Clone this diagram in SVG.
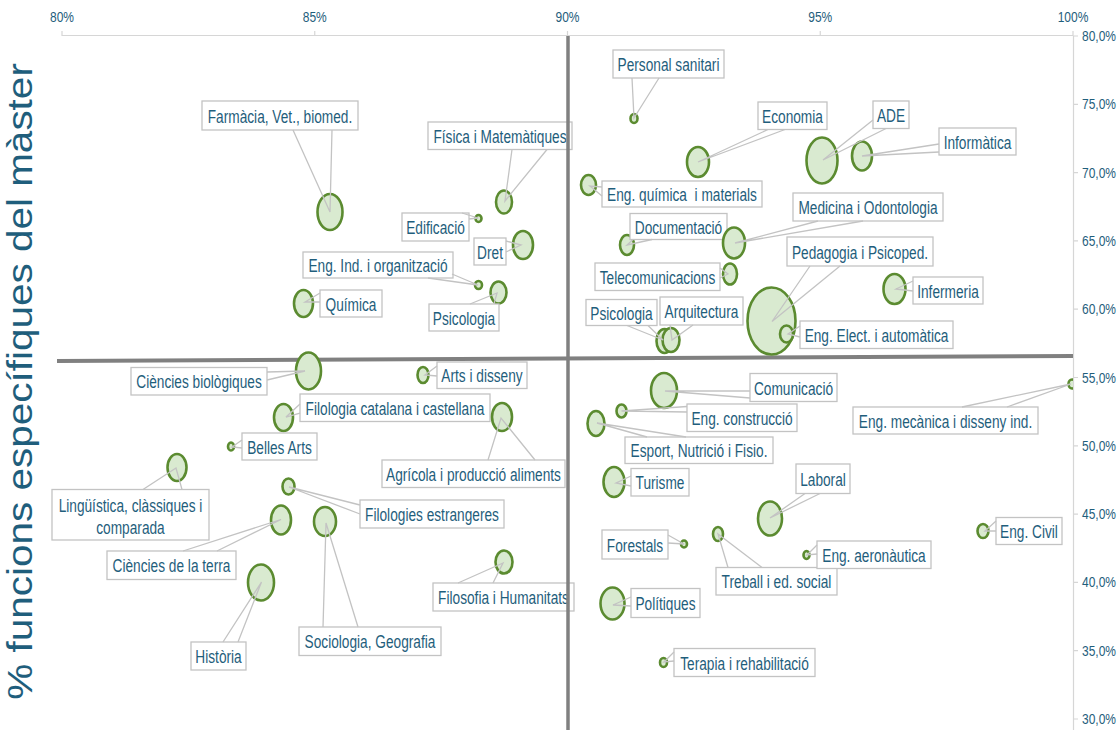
<svg xmlns="http://www.w3.org/2000/svg" width="1118" height="730" viewBox="0 0 1118 730">
<style>
.b{fill:#d9ead0;stroke:#5b8b30;stroke-width:2.6}
.bx{fill:#fff;stroke:#c3c3c3;stroke-width:1.3}
.t{font-family:"Liberation Sans",Arial,sans-serif;font-size:18.5px;fill:#1f5e7c;text-anchor:middle}
.w{fill:none;stroke:#c3c3c3;stroke-width:1.3}
.ax{stroke:#d6d6d6;stroke-width:1.2;fill:none}
.tk{font-family:"Liberation Sans",Arial,sans-serif;font-size:15px;fill:#1f5e7c}
.thick{stroke:#808080;fill:none}
</style>
<defs>
<clipPath id="plot"><rect x="0" y="0" width="1073" height="730"/></clipPath>
</defs>
<rect width="1118" height="730" fill="#fff"/>
<g id="axes">
<path class="ax" d="M62,35.5H1073M1073.5,36V730M62,31V36M314.75,31V36M567.5,31V36M820.25,31V36M1073,31V36M1073,36H1078M1073,104.3H1078M1073,172.6H1078M1073,240.9H1078M1073,309.2H1078M1073,377.5H1078M1073,445.8H1078M1073,514.1H1078M1073,582.4H1078M1073,650.7H1078M1073,719H1078"/>
<g class="tk" text-anchor="middle">
<text transform="translate(62,22) scale(0.8,1)">80%</text>
<text transform="translate(314.75,22) scale(0.8,1)">85%</text>
<text transform="translate(567.5,22) scale(0.8,1)">90%</text>
<text transform="translate(820.25,22) scale(0.8,1)">95%</text>
<text transform="translate(1073,22) scale(0.8,1)">100%</text>
</g>
<g class="tk">
<text transform="translate(1082,41) scale(0.8,1)">80,0%</text>
<text transform="translate(1082,109.3) scale(0.8,1)">75,0%</text>
<text transform="translate(1082,177.6) scale(0.8,1)">70,0%</text>
<text transform="translate(1082,245.9) scale(0.8,1)">65,0%</text>
<text transform="translate(1082,314.2) scale(0.8,1)">60,0%</text>
<text transform="translate(1082,382.5) scale(0.8,1)">55,0%</text>
<text transform="translate(1082,450.8) scale(0.8,1)">50,0%</text>
<text transform="translate(1082,519.1) scale(0.8,1)">45,0%</text>
<text transform="translate(1082,587.4) scale(0.8,1)">40,0%</text>
<text transform="translate(1082,655.7) scale(0.8,1)">35,0%</text>
<text transform="translate(1082,724) scale(0.8,1)">30,0%</text>
</g>
<text transform="translate(32,381.5) scale(0.88,1) rotate(-90)" style="font-family:'Liberation Sans',Arial,sans-serif;font-size:40.5px;fill:#1f5e7c;text-anchor:middle">% funcions específiques del màster</text>
</g>
<line id="hline" class="thick" x1="57" y1="361" x2="1073" y2="356" stroke-width="4"/>

<g id="farmacia"><ellipse class="b" cx="330" cy="212" rx="12.5" ry="18"/><rect class="bx" x="202" y="101" width="156" height="29"/><text class="t" transform="translate(280,122.5) scale(0.74,1)">Farmàcia, Vet., biomed.</text></g>
<g id="personal"><ellipse class="b" cx="634" cy="118.5" rx="3.5" ry="4.5"/><rect class="bx" x="613" y="50" width="111" height="28"/><text class="t" transform="translate(668.5,71) scale(0.74,1)">Personal sanitari</text></g>
<g id="fisica"><ellipse class="b" cx="504" cy="202" rx="8" ry="11.5"/><rect class="bx" x="428" y="122" width="144" height="27.5"/><text class="t" transform="translate(500,142.75) scale(0.74,1)">Física i Matemàtiques</text></g>
<g id="edificacio"><ellipse class="b" cx="478.5" cy="218.5" rx="3" ry="3.5"/><rect class="bx" x="402" y="213" width="67" height="28"/><text class="t" transform="translate(435.5,234) scale(0.74,1)">Edificació</text></g>
<g id="economia"><ellipse class="b" cx="698" cy="162" rx="11" ry="15"/><rect class="bx" x="758" y="102" width="69" height="27.5"/><text class="t" transform="translate(792.5,122.75) scale(0.74,1)">Economia</text></g>
<g id="ade"><ellipse class="b" cx="822" cy="160.5" rx="15.5" ry="23"/><rect class="bx" x="873" y="101" width="36" height="27.5"/><text class="t" transform="translate(891,121.75) scale(0.74,1)">ADE</text></g>
<g id="informatica"><ellipse class="b" cx="862" cy="156" rx="10" ry="14.5"/><rect class="bx" x="939" y="128" width="77" height="27"/><text class="t" transform="translate(977.5,148.5) scale(0.74,1)">Informàtica</text></g>
<g id="engquimica"><ellipse class="b" cx="588.5" cy="185" rx="7.5" ry="10"/><rect class="bx" x="602" y="181" width="160" height="26"/><text class="t" xml:space="preserve" transform="translate(682,201) scale(0.74,1)">Eng. química  i materials</text></g>
<g id="documentacio"><ellipse class="b" cx="627" cy="245" rx="7" ry="10"/><rect class="bx" x="630" y="213.5" width="97" height="26"/><text class="t" transform="translate(678.5,233.5) scale(0.74,1)">Documentació</text></g>
<g id="medicina"><ellipse class="b" cx="734" cy="243" rx="11" ry="15.5"/><rect class="bx" x="793" y="193" width="150" height="28"/><text class="t" transform="translate(868,214) scale(0.74,1)">Medicina i Odontologia</text></g>
<g id="dret"><ellipse class="b" cx="523" cy="245" rx="10" ry="14"/><rect class="bx" x="474" y="238" width="32" height="27"/><text class="t" transform="translate(490,258.5) scale(0.74,1)">Dret</text></g>
<g id="engind"><ellipse class="b" cx="478.5" cy="285" rx="3.5" ry="4"/><rect class="bx" x="303" y="252" width="150" height="26"/><text class="t" transform="translate(378,272) scale(0.74,1)">Eng. Ind. i organització</text></g>
<g id="psicologia1"><ellipse class="b" cx="498.5" cy="292.5" rx="8" ry="11"/><rect class="bx" x="429" y="304" width="70" height="27"/><text class="t" transform="translate(464,324.5) scale(0.74,1)">Psicologia</text></g>
<g id="quimica"><ellipse class="b" cx="303.5" cy="303.5" rx="9.5" ry="13.5"/><rect class="bx" x="320" y="290" width="62" height="27"/><text class="t" transform="translate(351,310.5) scale(0.74,1)">Química</text></g>
<g id="telecom"><ellipse class="b" cx="730" cy="274" rx="7" ry="10.5"/><rect class="bx" x="595" y="263" width="125" height="27.5"/><text class="t" transform="translate(657.5,283.75) scale(0.74,1)">Telecomunicacions</text></g>
<g id="pedagogia"><ellipse class="b" cx="771.5" cy="321" rx="24" ry="33.5"/><rect class="bx" x="787" y="237" width="146" height="29"/><text class="t" transform="translate(860,258.5) scale(0.74,1)">Pedagogia i Psicoped.</text></g>
<g id="psicologia2"><ellipse class="b" cx="664.5" cy="341" rx="8" ry="12"/><rect class="bx" x="586" y="299.5" width="71" height="26"/><text class="t" transform="translate(621.5,319.5) scale(0.74,1)">Psicologia</text></g>
<g id="arquitectura"><ellipse class="b" cx="671" cy="340" rx="8.5" ry="12"/><rect class="bx" x="660" y="297" width="83" height="28"/><text class="t" transform="translate(701.5,318) scale(0.74,1)">Arquitectura</text></g>
<g id="engelect"><ellipse class="b" cx="786.5" cy="334" rx="6.5" ry="8.5"/><rect class="bx" x="800" y="321" width="153" height="27.5"/><text class="t" transform="translate(876.5,341.75) scale(0.74,1)">Eng. Elect. i automàtica</text></g>
<g id="infermeria"><ellipse class="b" cx="894.5" cy="289" rx="11" ry="15"/><rect class="bx" x="913" y="277" width="70" height="27"/><text class="t" transform="translate(948,297.5) scale(0.74,1)">Infermeria</text></g>
<g id="biologiques"><ellipse class="b" cx="308.5" cy="371" rx="12.5" ry="18.5"/><rect class="bx" x="131" y="367.5" width="136" height="27.5"/><text class="t" transform="translate(199,388.25) scale(0.74,1)">Ciències biològiques</text></g>
<g id="artsdisseny"><ellipse class="b" cx="423" cy="375" rx="5.5" ry="8"/><rect class="bx" x="437" y="362" width="90" height="26.5"/><text class="t" transform="translate(482,382.25) scale(0.74,1)">Arts i disseny</text></g>
<g id="filcat"><ellipse class="b" cx="283.5" cy="417.5" rx="9.5" ry="13.5"/><rect class="bx" x="300" y="394" width="190" height="27.5"/><text class="t" transform="translate(395,414.75) scale(0.74,1)">Filologia catalana i castellana</text></g>
<g id="bellesarts"><ellipse class="b" cx="231" cy="446.5" rx="3" ry="4"/><rect class="bx" x="242" y="433" width="75" height="27"/><text class="t" transform="translate(279.5,453.5) scale(0.74,1)">Belles Arts</text></g>
<g id="agricola"><ellipse class="b" cx="502" cy="417" rx="10" ry="14"/><rect class="bx" x="382" y="460" width="183" height="27.5"/><text class="t" transform="translate(473.5,480.75) scale(0.74,1)">Agrícola i producció aliments</text></g>
<g id="comunicacio"><ellipse class="b" cx="664" cy="390.5" rx="13" ry="17.5"/><rect class="bx" x="750" y="373.5" width="87" height="28"/><text class="t" transform="translate(793.5,394.5) scale(0.74,1)">Comunicació</text></g>
<g id="engcons"><ellipse class="b" cx="621.5" cy="411" rx="5" ry="6.5"/><rect class="bx" x="687" y="404" width="110" height="27.5"/><text class="t" transform="translate(742,424.75) scale(0.74,1)">Eng. construcció</text></g>
<g id="engmec"><ellipse class="b" cx="1072" cy="384" rx="3.5" ry="4.5" clip-path="url(#plot)"/><rect class="bx" x="853" y="407" width="185" height="27"/><text class="t" transform="translate(945.5,427.5) scale(0.74,1)">Eng. mecànica i disseny ind.</text></g>
<g id="esport"><ellipse class="b" cx="596" cy="423.5" rx="8.5" ry="12.5"/><rect class="bx" x="625" y="437" width="148" height="26.5"/><text class="t" transform="translate(699,457.25) scale(0.74,1)">Esport, Nutrició i Fisio.</text></g>
<g id="turisme"><ellipse class="b" cx="614" cy="482" rx="10.5" ry="15"/><rect class="bx" x="631" y="468.5" width="58" height="27.5"/><text class="t" transform="translate(660,489.25) scale(0.74,1)">Turisme</text></g>
<g id="linguistica"><ellipse class="b" cx="177" cy="467.5" rx="9.5" ry="13.5"/><rect class="bx" x="52" y="489.5" width="157" height="50.5"/><text class="t" transform="translate(130.5,511.5) scale(0.74,1)">Lingüística, clàssiques i</text><text class="t" transform="translate(130.5,533.5) scale(0.74,1)">comparada</text></g>
<g id="filest"><ellipse class="b" cx="288.5" cy="486.5" rx="6" ry="8"/><rect class="bx" x="360" y="500" width="144" height="28"/><text class="t" transform="translate(432,521) scale(0.74,1)">Filologies estrangeres</text></g>
<g id="cienterra"><ellipse class="b" cx="281" cy="520" rx="10" ry="14.5"/><rect class="bx" x="107" y="551" width="129" height="28.5"/><text class="t" transform="translate(171.5,572.25) scale(0.74,1)">Ciències de la terra</text></g>
<g id="sociologia"><ellipse class="b" cx="325" cy="521.5" rx="11" ry="14.5"/><rect class="bx" x="299" y="627" width="142" height="28.5"/><text class="t" transform="translate(370,648.25) scale(0.74,1)">Sociologia, Geografia</text></g>
<g id="historia"><ellipse class="b" cx="261" cy="582.5" rx="13" ry="18"/><rect class="bx" x="191" y="642" width="55" height="28"/><text class="t" transform="translate(218.5,663) scale(0.74,1)">Història</text></g>
<g id="filosofia"><ellipse class="b" cx="504" cy="562" rx="8.5" ry="11.5"/><rect class="bx" x="433" y="583" width="141" height="28"/><text class="t" transform="translate(503.5,604) scale(0.74,1)">Filosofia i Humanitats</text></g>
<g id="forestals"><ellipse class="b" cx="684" cy="544" rx="3" ry="3.5"/><rect class="bx" x="602" y="530" width="66" height="29"/><text class="t" transform="translate(635,551.5) scale(0.74,1)">Forestals</text></g>
<g id="treball"><ellipse class="b" cx="718" cy="534" rx="5" ry="7"/><rect class="bx" x="716" y="567.5" width="121" height="27.5"/><text class="t" transform="translate(776.5,588.25) scale(0.74,1)">Treball i ed. social</text></g>
<g id="politiques"><ellipse class="b" cx="612.5" cy="603.5" rx="12" ry="16"/><rect class="bx" x="631" y="588.5" width="69" height="29"/><text class="t" transform="translate(665.5,610) scale(0.74,1)">Polítiques</text></g>
<g id="terapia"><ellipse class="b" cx="663.5" cy="662.5" rx="3.5" ry="4.5"/><rect class="bx" x="674" y="648.5" width="141" height="28"/><text class="t" transform="translate(744.5,669.5) scale(0.74,1)">Terapia i rehabilitació</text></g>
<g id="laboral"><ellipse class="b" cx="770" cy="518.5" rx="12" ry="17"/><rect class="bx" x="796" y="464" width="54" height="29.5"/><text class="t" transform="translate(823,485.75) scale(0.74,1)">Laboral</text></g>
<g id="engaero"><ellipse class="b" cx="806.5" cy="555" rx="3" ry="4"/><rect class="bx" x="817" y="541" width="114" height="27.5"/><text class="t" transform="translate(874,561.75) scale(0.74,1)">Eng. aeronàutica</text></g>
<g id="engcivil"><ellipse class="b" cx="983" cy="531" rx="5.5" ry="7"/><rect class="bx" x="996" y="517.5" width="66" height="27"/><text class="t" transform="translate(1029,538) scale(0.74,1)">Eng. Civil</text></g>

<g id="connectors" class="w">
<polyline points="293,130 330,212 332,130"/>
<polyline points="632,78 634,118 659,78"/>
<polyline points="512,149.5 505,201 547,149.5"/>
<polyline points="462,213 478,218 469,219"/>
<polyline points="768,129.5 698,162 785,129.5"/>
<polyline points="873,120 823,160 886,128.5"/>
<polyline points="939,144 862,156 939,152"/>
<polyline points="602,187 590,186 602,196"/>
<polyline points="633,239.5 627,245 652,239.5"/>
<polyline points="818,221 735,243 863,221"/>
<polyline points="506,241 521,245 506,252"/>
<polyline points="428,278 478,285 452,274"/>
<polyline points="470,304 497,293 494,304"/>
<polyline points="320,293 305,302 320,302"/>
<polyline points="720,268 728,274 720,278"/>
<polyline points="810,266 772,321.5 840,266"/>
<polyline points="627,325.5 663,340 648,325.5"/>
<polyline points="670,325 672,340 693,325"/>
<polyline points="800,326 788,334 800,337"/>
<polyline points="913,281 896,289 913,291"/>
<polyline points="267,372 305,371 267,380"/>
<polyline points="437,366 425,375 437,376"/>
<polyline points="300,404 286,417 300,413"/>
<polyline points="242,440 232,447 242,448"/>
<polyline points="488,460 501,418 535,460"/>
<polyline points="750,391 665,391 750,398"/>
<polyline points="687,406.5 621.5,411 687,412"/>
<polyline points="962,407 1071,384 1007,407"/>
<polyline points="647,437 597,423 686,437"/>
<polyline points="631,476 616,483 631,486"/>
<polyline points="143,489.5 176,468 182,489.5"/>
<polyline points="360,505 289,487 360,514"/>
<polyline points="183,551 281,519.5 217,551"/>
<polyline points="323,627 326,523 358,627"/>
<polyline points="223,642 261.5,582 238,642"/>
<polyline points="458,583 503,563 493,583"/>
<polyline points="668,535 684,544 668,543"/>
<polyline points="728,567.5 718,534 762,567.5"/>
<polyline points="631,597 613,605 631,606"/>
<polyline points="674,652 664,662 674,661"/>
<polyline points="805,493.5 770,518 820,493.5"/>
<polyline points="817,545 807,555 817,554"/>
<polyline points="996,521 985,531 996,531"/>
</g>
<line id="vline" class="thick" x1="568" y1="36" x2="568" y2="730" stroke-width="3.5"/>
</svg>
